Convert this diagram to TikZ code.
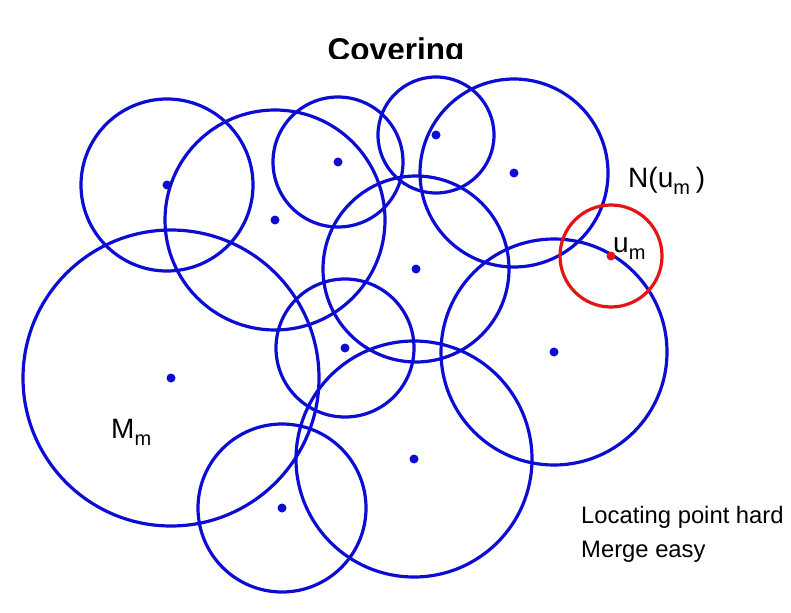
\documentclass[tikz,border=0pt]{standalone}
\usepackage{fontspec}
\setmainfont{Liberation Sans}
\definecolor{coverblue}{RGB}{12,12,210}
\definecolor{nbhdred}{RGB}{228,20,20}
\newcommand{\lowsub}[1]{\raisebox{-7pt}{\fontsize{20}{20}\selectfont #1}}

\begin{document}
\begin{tikzpicture}[x=1pt, y=-1pt, line join=round, line cap=round,
    cover/.style={draw=coverblue, line width=3.2pt},
    nbhd/.style={draw=nbhdred, line width=3.2pt},
    lbl/.style={inner sep=0pt, anchor=base west, font=\fontsize{28}{28}\selectfont}]
    \useasboundingbox (0,0) rectangle (791,612);

    % title, cut off by the top of the plot area
    \begin{scope}
        \clip (0,0) rectangle (791,59);
        \node[anchor=base, inner sep=0pt, font=\bfseries\fontsize{31.5}{31.5}\selectfont] (title) at (396,61) {Covering};
    \end{scope}

    % the covering balls (centre x / centre y / radius)
    \foreach \cx/\cy/\r in {167/185/86, 275/220/110, 338/162/65, 436/135/58,
                            514/173/94, 416/269/93, 345/348/69, 171/378/148,
                            554/352/113, 414/459/118, 282/508/84} {
        \draw[cover] (\cx,\cy) circle[radius=\r pt];
        \fill[coverblue] (\cx,\cy) circle[radius=4.5pt];
    }

    % the neighbourhood N(u_m) of the new point
    \coordinate (um) at (611,256);
    \draw[nbhd] (um) circle[radius=51pt];
    \fill[nbhdred] (um) circle[radius=4.5pt];

    % labels
    \node[lbl] (Mlabel) at (111,438) {M\lowsub{m}};
    \node[lbl] (Nlabel) at (628,188) {N(u\lowsub{m}\hspace{6pt})};
    \node[lbl] (ulabel) at (613,252) {u\lowsub{m}};
    \node[lbl, font=\fontsize{23.8}{23.8}\selectfont] (hard) at (581,523) {Locating point hard};
    \node[lbl, font=\fontsize{23.8}{23.8}\selectfont] (easy) at (581,557) {Merge easy};
\end{tikzpicture}
\end{document}
